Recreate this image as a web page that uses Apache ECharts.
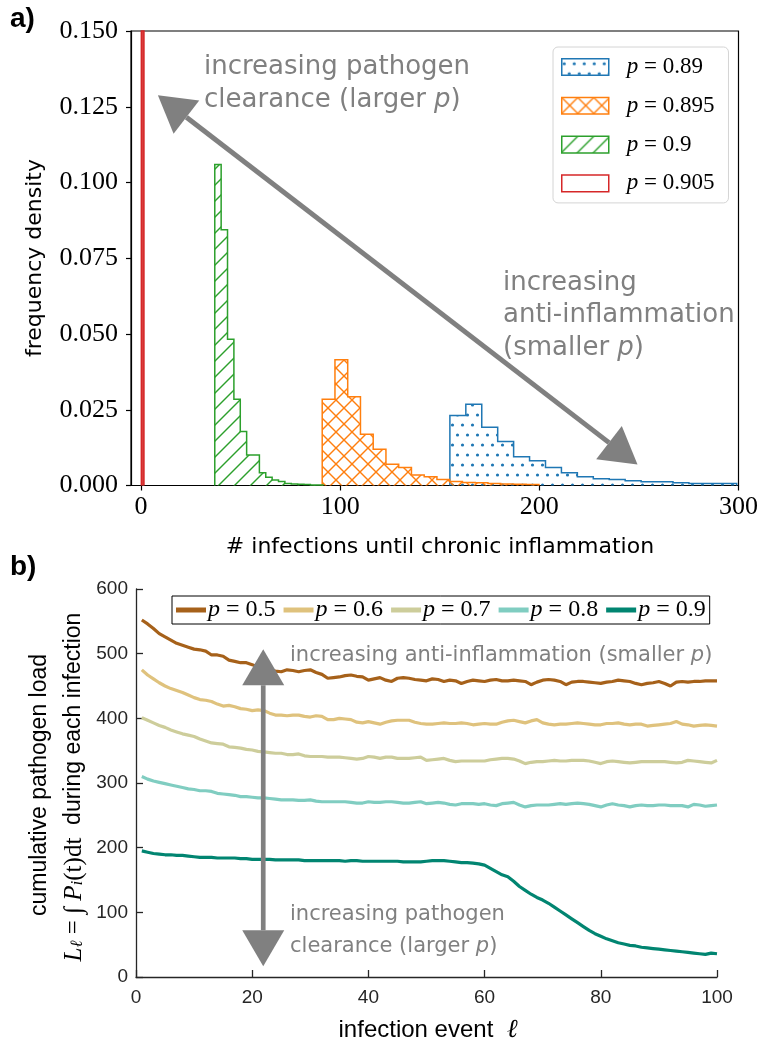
<!DOCTYPE html>
<html><head><meta charset="utf-8">
<script src="https://cdn.jsdelivr.net/npm/echarts@6/dist/echarts.min.js"></script>
<style>html,body{margin:0;padding:0;background:#fff}#c{width:761px;height:1048px}</style>
</head><body><div id="c"></div>
<script>
// ---------- Panel a: histograms (bin start, bin width, frequency densities) ----------
const histNames = ['p = 0.89', 'p = 0.895', 'p = 0.9', 'p = 0.905'];
const blueStart = 155.1, blueBin = 8.0;
const blueDensity = [0.0231, 0.0268, 0.0192, 0.0145, 0.0095, 0.0082, 0.0059, 0.0042, 0.0029,
  0.0022, 0.0020, 0.0016, 0.0012, 0.0012, 0.0009, 0.0007, 0.0007, 0.0007];
const orangeStart = 91.0, orangeBin = 6.4;
const orangeDensity = [0.0285, 0.0415, 0.0293, 0.0169, 0.0120, 0.0070, 0.0059, 0.0035, 0.0029,
  0.0020, 0.0013, 0.0010, 0.0009, 0.0007, 0.0005, 0.0004, 0.0003];
const greenStart = 37.06, greenBin = 3.2;
const greenDensity = [0.1059, 0.0844, 0.0483, 0.0285, 0.0178, 0.0101, 0.0101, 0.0042, 0.0027,
  0.0018, 0.0013, 0.0007, 0.0005, 0.0004, 0.0003, 0.0002, 0.0002];
const redStart = 0.2, redBin = 1.3;
const redDensity = [0.6];   // off the scale (clipped at the top of the axis)
const xTicksA = [0, 100, 200, 300];

// annotation arrows (data coordinates)
const arrowA = [[8.5, 0.1288], [249.3, 0.0069]];
const arrowB = [[21.9, 507], [21.9, 16.7]];

// ---------- Panel b: cumulative pathogen load per infection event ----------
const lineNames = ['p = 0.5', 'p = 0.6', 'p = 0.7', 'p = 0.8', 'p = 0.9'];
const events = [1,2,3,4,5,6,7,8,9,10,11,12,13,14,15,16,17,18,19,20,21,22,23,24,25,26,27,28,29,30,
  31,32,33,34,35,36,37,38,39,40,41,42,43,44,45,46,47,48,49,50,51,52,53,54,55,56,57,58,59,60,
  61,62,63,64,65,66,67,68,69,70,71,72,73,74,75,76,77,78,79,80,81,82,83,84,85,86,87,88,89,90,
  91,92,93,94,95,96,97,98,99,100];
const load05 = [552,546,539,531,526,521,516,513,510,507,
  506,504,498,498,496,490,488,486,486,483,
  479,477,475,473,472,475,474,472,474,475,
  471,468,462,463,464,466,467,465,464,459,
  461,463,459,457,462,463,462,460,459,458,
  461,460,457,459,458,454,457,459,458,457,
  459,460,458,458,459,458,457,452,456,459,
  460,459,457,452,456,457,457,456,455,454,
  456,457,459,458,457,454,452,454,455,457,
  454,450,456,457,456,457,457,458,458,458];
const load06 = [475,467,461,455,450,446,443,440,436,432,
  429,428,426,422,419,420,418,415,414,412,
  413,412,408,405,405,404,405,405,403,402,
  404,403,398,398,400,399,398,394,393,395,
  393,391,394,396,397,397,397,394,392,391,
  391,392,393,392,392,393,392,390,391,392,
  391,391,394,396,397,395,393,396,398,393,
  391,390,391,391,392,393,392,391,390,390,
  392,392,393,391,390,391,391,388,389,390,
  391,392,395,391,390,388,389,390,389,388];
const load07 = [401,397,393,389,386,382,379,376,374,372,
  368,365,362,361,360,356,355,354,352,351,
  349,348,347,346,346,344,344,345,342,341,
  341,341,340,340,340,339,338,337,338,341,
  340,338,340,340,338,338,338,339,340,335,
  336,337,338,335,333,334,334,334,334,334,
  336,337,338,338,337,334,330,332,333,333,
  334,335,334,334,335,335,335,334,332,330,
  333,334,333,332,331,332,333,333,333,333,
  333,332,331,332,335,334,333,332,331,335];
const load08 = [310,306,303,301,299,297,295,293,291,290,
  288,288,287,284,283,282,281,279,279,278,
  277,277,276,275,274,274,274,273,273,274,
  272,271,271,271,271,271,270,269,269,271,
  270,270,271,271,270,269,269,270,271,268,
  269,270,269,267,266,268,268,268,267,268,
  266,265,268,269,270,266,263,265,266,266,
  266,267,268,267,268,269,268,267,265,263,
  266,268,266,265,263,265,266,265,265,266,
  266,265,265,265,263,267,266,264,265,266];
const load09 = [195,193,191,190,189,189,188,188,187,186,
  185,185,185,184,184,184,184,183,183,182,
  182,182,182,181,181,181,181,181,180,180,
  180,180,180,180,180,179,180,180,179,179,
  179,179,179,179,179,178,178,178,178,179,
  180,180,180,179,178,177,177,176,175,173,
  168,163,158,155,148,140,134,128,123,119,
  114,108,102,96,90,84,78,72,67,63,
  59,56,53,51,49,48,46,45,44,43,
  42,41,40,39,38,37,36,35,37,36];
const lineColors = ['#a6611a', '#dfc27d', '#cdcd9b', '#80cdc1', '#018571'];

// ---------- hatch patterns ----------
function makePattern(kind, color) {
  const c = document.createElement('canvas');
  const ctx = c.getContext('2d');
  if (kind === 'dots') {
    c.width = 10; c.height = 20;
    ctx.fillStyle = color;
    [[2.5, 5], [7.5, 15]].forEach(p => { ctx.beginPath(); ctx.arc(p[0], p[1], 1.6, 0, Math.PI * 2); ctx.fill(); });
  } else {
    const s = 16;
    c.width = s; c.height = s;
    ctx.strokeStyle = color; ctx.lineWidth = 1.4;
    const seg = (x1, y1, x2, y2) => { ctx.beginPath(); ctx.moveTo(x1, y1); ctx.lineTo(x2, y2); ctx.stroke(); };
    seg(-2, s + 2, s + 2, -2); seg(-2, 2, 2, -2); seg(s - 2, s + 2, s + 2, s - 2);
    if (kind === 'cross') { seg(-2, -2, s + 2, s + 2); seg(s - 2, -2, s + 2, 2); seg(-2, s - 2, 2, s + 2); }
  }
  return { image: c, repeat: 'repeat' };
}
const blueFill = makePattern('dots', '#1f77b4');
const orangeFill = makePattern('cross', '#ff7f0e');
const greenFill = makePattern('diag', '#2ca02c');

function histRender(start, bin, dens, color, fill, yMax) {
  return function (params, api) {
    const top = [];
    top.push(api.coord([start, 0]));
    for (let i = 0; i < dens.length; i++) {
      const h = Math.min(dens[i], yMax);
      top.push(api.coord([start + i * bin, h]));
      top.push(api.coord([start + (i + 1) * bin, h]));
    }
    top.push(api.coord([start + dens.length * bin, 0]));
    return { type: 'group', children: [
      { type: 'polygon', shape: { points: top }, style: { fill: fill, stroke: null } },
      { type: 'polyline', shape: { points: top }, style: { fill: null, stroke: color, lineWidth: 1.5, lineJoin: 'miter' } }
    ] };
  };
}
function arrowRender(pts, hl, hw, lw) {
  return function (params, api) {
    const a = api.coord(pts[0]), b = api.coord(pts[1]);
    const dx = b[0] - a[0], dy = b[1] - a[1], L = Math.hypot(dx, dy);
    const ux = dx / L, uy = dy / L, nx = -uy, ny = ux;
    const a2 = [a[0] + ux * hl, a[1] + uy * hl], b2 = [b[0] - ux * hl, b[1] - uy * hl];
    const g = '#808080';
    return { type: 'group', children: [
      { type: 'line', shape: { x1: a2[0], y1: a2[1], x2: b2[0], y2: b2[1] }, style: { stroke: g, lineWidth: lw } },
      { type: 'polygon', shape: { points: [a, [a2[0] + nx * hw, a2[1] + ny * hw], [a2[0] - nx * hw, a2[1] - ny * hw]] }, style: { fill: g } },
      { type: 'polygon', shape: { points: [b, [b2[0] + nx * hw, b2[1] + ny * hw], [b2[0] - nx * hw, b2[1] - ny * hw]] }, style: { fill: g } }
    ] };
  };
}

// series identifiers are prefixed by panel so that the two legends stay independent
const idA = n => 'a: ' + n, idB = n => 'b: ' + n;
const legendLabel = id => '{i|p} = ' + id.slice(id.indexOf('=') + 2);

const histSpecs = [
  { name: idA(histNames[0]), start: blueStart, bin: blueBin, dens: blueDensity, color: '#1f77b4', fill: blueFill },
  { name: idA(histNames[1]), start: orangeStart, bin: orangeBin, dens: orangeDensity, color: '#ff7f0e', fill: orangeFill },
  { name: idA(histNames[2]), start: greenStart, bin: greenBin, dens: greenDensity, color: '#2ca02c', fill: greenFill },
  { name: idA(histNames[3]), start: redStart, bin: redBin, dens: redDensity, color: '#d62728', fill: '#d94040', legendFill: '#fff' }
];

const series = [];
histSpecs.forEach(h => {
  series.push({
    type: 'custom', name: h.name, xAxisIndex: 0, yAxisIndex: 0, silent: true,
    itemStyle: { color: h.fill, borderColor: h.color, borderWidth: 1.5 },
    data: [[h.start, 0]],
    renderItem: histRender(h.start, h.bin, h.dens, h.color, h.fill, 0.15)
  });
});
series.push({ type: 'custom', xAxisIndex: 0, yAxisIndex: 0, silent: true, z: 5, data: [[0, 0]], renderItem: arrowRender(arrowA, 36, 21, 5) });

const loads = [load05, load06, load07, load08, load09];
loads.forEach((arr, k) => {
  series.push({
    type: 'line', name: idB(lineNames[k]), xAxisIndex: 1, yAxisIndex: 1, showSymbol: false, symbol: 'none',
    lineStyle: { width: 3.2, color: lineColors[k] }, itemStyle: { color: lineColors[k] },
    data: events.map((e, i) => [e, arr[i]]), z: 2, silent: true
  });
});
series.push({ type: 'custom', xAxisIndex: 1, yAxisIndex: 1, silent: true, z: 5, data: [[0, 0]], renderItem: arrowRender(arrowB, 36, 21, 4.7) });

const serifI = { fontFamily: 'Liberation Serif', fontStyle: 'italic' };
const gray = '#808080';

const option = {
  animation: false,
  backgroundColor: '#fff',
  grid: [
    { left: 131, top: 31, width: 609, height: 454.5, show: true, borderColor: '#000', borderWidth: 1.2, backgroundColor: 'transparent' },
    { left: 136, top: 589, width: 581, height: 388 }
  ],
  xAxis: [
    { gridIndex: 0, type: 'value', min: -5, max: 300,
      axisLine: { show: true, onZero: false, lineStyle: { color: '#000', width: 1.2 } },
      axisTick: { show: true, inside: false, length: 5, customValues: xTicksA, lineStyle: { color: '#000', width: 1.2 } },
      axisLabel: { customValues: xTicksA, fontFamily: 'Liberation Serif', fontSize: 26, color: '#000', margin: 9 },
      splitLine: { show: false } },
    { gridIndex: 1, type: 'value', min: 0, max: 100, interval: 20,
      axisLine: { show: true, onZero: false, lineStyle: { color: '#262626', width: 1.3 } },
      axisTick: { show: true, inside: true, length: 7, lineStyle: { color: '#262626', width: 1.3 } },
      axisLabel: { fontFamily: 'Liberation Sans', fontSize: 19, color: '#262626', margin: 11 },
      splitLine: { show: false } }
  ],
  yAxis: [
    { gridIndex: 0, type: 'value', min: 0, max: 0.15, interval: 0.025,
      axisLine: { show: true, onZero: false, lineStyle: { color: '#000', width: 1.2 } },
      axisTick: { show: true, inside: false, length: 5, lineStyle: { color: '#000', width: 1.2 } },
      axisLabel: { formatter: v => v.toFixed(3), fontFamily: 'Liberation Serif', fontSize: 26, color: '#000', margin: 13 },
      splitLine: { show: false } },
    { gridIndex: 1, type: 'value', min: 0, max: 600, interval: 100,
      axisLine: { show: true, onZero: false, lineStyle: { color: '#262626', width: 1.3 } },
      axisTick: { show: true, inside: true, length: 7, lineStyle: { color: '#262626', width: 1.3 } },
      axisLabel: { fontFamily: 'Liberation Sans', fontSize: 19, color: '#262626', margin: 8 },
      splitLine: { show: false } }
  ],
  legend: [
    { orient: 'vertical', left: 553, top: 47, selectedMode: false, icon: 'rect',
      itemWidth: 47, itemHeight: 16.6, itemGap: 15.8,
      padding: [8.5, 14, 8, 8], borderColor: '#d4d4d4', borderWidth: 1, borderRadius: 5, backgroundColor: '#fff',
      data: histSpecs.map(h => ({ name: h.name, itemStyle: { color: h.legendFill || h.fill, borderColor: h.color, borderWidth: 1.5 } })),
      formatter: legendLabel,
      textStyle: { fontFamily: 'Liberation Serif', fontSize: 23, color: '#000', padding: [0, 0, 0, 13],
        rich: { i: Object.assign({ fontSize: 23, color: '#000' }, serifI) } } },
    { orient: 'horizontal', left: 172, top: 596, selectedMode: false, icon: 'rect',
      itemWidth: 30, itemHeight: 5, itemGap: 8,
      padding: [2, 4, 2, 4], borderColor: '#000', borderWidth: 1, backgroundColor: '#fff',
      data: lineNames.map(idB),
      formatter: legendLabel,
      textStyle: { fontFamily: 'Liberation Serif', fontSize: 24, color: '#000', padding: [0, 0, 0, -3],
        rich: { i: Object.assign({ fontSize: 24, color: '#000' }, serifI) } } }
  ],
  graphic: [
    { type: 'text', left: 10, top: 5, style: { text: 'a)', fontFamily: 'Liberation Sans', fontWeight: 'bold', fontSize: 28, fill: '#000' } },
    { type: 'text', left: 10, top: 553, style: { text: 'b)', fontFamily: 'Liberation Sans', fontWeight: 'bold', fontSize: 28, fill: '#000' } },
    { type: 'text', x: 35, y: 258, rotation: Math.PI / 2,
      style: { text: 'frequency density', fontFamily: 'DejaVu Sans', fontSize: 22, fill: '#000', align: 'center', verticalAlign: 'middle' } },
    { type: 'text', x: 440, y: 547,
      style: { text: '# infections until chronic inflammation', fontFamily: 'DejaVu Sans', fontSize: 22, fill: '#000', align: 'center', verticalAlign: 'middle' } },
    { type: 'text', x: 204, y: 50.5,
      style: { text: 'increasing pathogen\nclearance (larger {i|p})', fontFamily: 'DejaVu Sans', fontSize: 26, lineHeight: 33, fill: gray, align: 'left', verticalAlign: 'top',
        rich: { i: { fontFamily: 'DejaVu Sans', fontStyle: 'italic', fontSize: 26, lineHeight: 33, fill: gray } } } },
    { type: 'text', x: 503, y: 266.5,
      style: { text: 'increasing\nanti-inflammation\n(smaller {i|p})', fontFamily: 'DejaVu Sans', fontSize: 26, lineHeight: 32.5, fill: gray, align: 'left', verticalAlign: 'top',
        rich: { i: { fontFamily: 'DejaVu Sans', fontStyle: 'italic', fontSize: 26, lineHeight: 32.5, fill: gray } } } },
    { type: 'text', x: 290, y: 640,
      style: { text: 'increasing anti-inflammation (smaller {i|p})', fontFamily: 'DejaVu Sans', fontSize: 21, lineHeight: 32, fill: gray, align: 'left', verticalAlign: 'top',
        rich: { i: { fontFamily: 'DejaVu Sans', fontStyle: 'italic', fontSize: 21, lineHeight: 32, fill: gray } } } },
    { type: 'text', x: 290, y: 899,
      style: { text: 'increasing pathogen\nclearance (larger {i|p})', fontFamily: 'DejaVu Sans', fontSize: 21, lineHeight: 32, fill: gray, align: 'left', verticalAlign: 'top',
        rich: { i: { fontFamily: 'DejaVu Sans', fontStyle: 'italic', fontSize: 21, lineHeight: 32, fill: gray } } } },
    { type: 'text', x: 40, y: 785, rotation: Math.PI / 2,
      style: { text: 'cumulative pathogen load', fontFamily: 'Liberation Sans', fontSize: 23, fill: '#000', align: 'center', verticalAlign: 'middle' } },
    { type: 'text', x: 74, y: 787, rotation: Math.PI / 2,
      style: { text: '{m|L}{s|ℓ}{n| = ∫ }{m|P}{s|i}{n|(t)dt}  during each infection', fontFamily: 'Liberation Sans', fontSize: 23, fill: '#000', align: 'center', verticalAlign: 'middle',
        rich: {
          m: { fontFamily: 'Liberation Serif', fontStyle: 'italic', fontSize: 25, fill: '#000' },
          s: { fontFamily: 'Liberation Serif', fontStyle: 'italic', fontSize: 17, fill: '#000', verticalAlign: 'bottom', padding: [8, 0, 0, 0] },
          n: { fontFamily: 'Liberation Serif', fontSize: 25, fill: '#000' }
        } } },
    { type: 'text', x: 428, y: 1030,
      style: { text: 'infection event  {m|ℓ}', fontFamily: 'Liberation Sans', fontSize: 24, fill: '#000', align: 'center', verticalAlign: 'middle',
        rich: { m: { fontFamily: 'Liberation Serif', fontStyle: 'italic', fontSize: 26, fill: '#000' } } } }
  ],
  series: series
};

const chart = echarts.init(document.getElementById('c'), null, { renderer: 'canvas' });
chart.setOption(option);
</script>
</body></html>
